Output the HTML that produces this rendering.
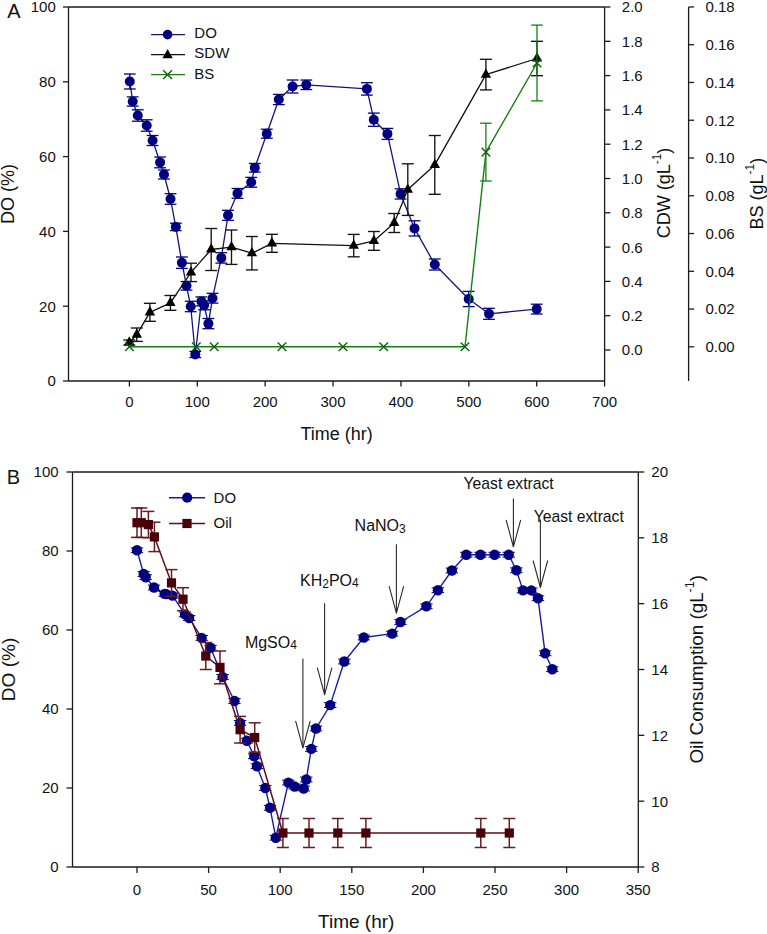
<!DOCTYPE html>
<html><head><meta charset="utf-8"><style>
html,body{margin:0;padding:0;background:#fff;}
body{width:767px;height:934px;overflow:hidden;}
svg{display:block;}
text{font-family:"Liberation Sans",sans-serif;fill:#111;}
</style></head><body>
<svg width="767" height="934" viewBox="0 0 767 934">
<rect width="767" height="934" fill="#fff"/>
<line x1="68.50" y1="7.00" x2="604.60" y2="7.00" stroke="#1a1a1a" stroke-width="1.3"/>
<line x1="68.50" y1="7.00" x2="68.50" y2="381.00" stroke="#1a1a1a" stroke-width="1.3"/>
<line x1="604.60" y1="7.00" x2="604.60" y2="381.00" stroke="#1a1a1a" stroke-width="1.3"/>
<line x1="68.50" y1="381.00" x2="604.60" y2="381.00" stroke="#1a1a1a" stroke-width="1.3"/>
<line x1="63.00" y1="381.00" x2="68.50" y2="381.00" stroke="#1a1a1a" stroke-width="1.3"/>
<text x="55.80" y="386.40" font-size="15" text-anchor="end" >0</text>
<line x1="63.00" y1="306.20" x2="68.50" y2="306.20" stroke="#1a1a1a" stroke-width="1.3"/>
<text x="55.80" y="311.60" font-size="15" text-anchor="end" >20</text>
<line x1="63.00" y1="231.40" x2="68.50" y2="231.40" stroke="#1a1a1a" stroke-width="1.3"/>
<text x="55.80" y="236.80" font-size="15" text-anchor="end" >40</text>
<line x1="63.00" y1="156.60" x2="68.50" y2="156.60" stroke="#1a1a1a" stroke-width="1.3"/>
<text x="55.80" y="162.00" font-size="15" text-anchor="end" >60</text>
<line x1="63.00" y1="81.80" x2="68.50" y2="81.80" stroke="#1a1a1a" stroke-width="1.3"/>
<text x="55.80" y="87.20" font-size="15" text-anchor="end" >80</text>
<line x1="63.00" y1="7.00" x2="68.50" y2="7.00" stroke="#1a1a1a" stroke-width="1.3"/>
<text x="55.80" y="12.40" font-size="15" text-anchor="end" >100</text>
<line x1="129.40" y1="381.00" x2="129.40" y2="386.50" stroke="#1a1a1a" stroke-width="1.3"/>
<text x="129.40" y="407.30" font-size="15" text-anchor="middle" >0</text>
<line x1="197.29" y1="381.00" x2="197.29" y2="386.50" stroke="#1a1a1a" stroke-width="1.3"/>
<text x="197.29" y="407.30" font-size="15" text-anchor="middle" >100</text>
<line x1="265.17" y1="381.00" x2="265.17" y2="386.50" stroke="#1a1a1a" stroke-width="1.3"/>
<text x="265.17" y="407.30" font-size="15" text-anchor="middle" >200</text>
<line x1="333.06" y1="381.00" x2="333.06" y2="386.50" stroke="#1a1a1a" stroke-width="1.3"/>
<text x="333.06" y="407.30" font-size="15" text-anchor="middle" >300</text>
<line x1="400.94" y1="381.00" x2="400.94" y2="386.50" stroke="#1a1a1a" stroke-width="1.3"/>
<text x="400.94" y="407.30" font-size="15" text-anchor="middle" >400</text>
<line x1="468.83" y1="381.00" x2="468.83" y2="386.50" stroke="#1a1a1a" stroke-width="1.3"/>
<text x="468.83" y="407.30" font-size="15" text-anchor="middle" >500</text>
<line x1="536.72" y1="381.00" x2="536.72" y2="386.50" stroke="#1a1a1a" stroke-width="1.3"/>
<text x="536.72" y="407.30" font-size="15" text-anchor="middle" >600</text>
<line x1="604.60" y1="381.00" x2="604.60" y2="386.50" stroke="#1a1a1a" stroke-width="1.3"/>
<text x="604.60" y="407.30" font-size="15" text-anchor="middle" >700</text>
<line x1="604.60" y1="350.00" x2="610.40" y2="350.00" stroke="#1a1a1a" stroke-width="1.3"/>
<text x="621.80" y="355.40" font-size="15" text-anchor="start" >0.0</text>
<line x1="604.60" y1="315.70" x2="610.40" y2="315.70" stroke="#1a1a1a" stroke-width="1.3"/>
<text x="621.80" y="321.10" font-size="15" text-anchor="start" >0.2</text>
<line x1="604.60" y1="281.40" x2="610.40" y2="281.40" stroke="#1a1a1a" stroke-width="1.3"/>
<text x="621.80" y="286.80" font-size="15" text-anchor="start" >0.4</text>
<line x1="604.60" y1="247.10" x2="610.40" y2="247.10" stroke="#1a1a1a" stroke-width="1.3"/>
<text x="621.80" y="252.50" font-size="15" text-anchor="start" >0.6</text>
<line x1="604.60" y1="212.80" x2="610.40" y2="212.80" stroke="#1a1a1a" stroke-width="1.3"/>
<text x="621.80" y="218.20" font-size="15" text-anchor="start" >0.8</text>
<line x1="604.60" y1="178.50" x2="610.40" y2="178.50" stroke="#1a1a1a" stroke-width="1.3"/>
<text x="621.80" y="183.90" font-size="15" text-anchor="start" >1.0</text>
<line x1="604.60" y1="144.20" x2="610.40" y2="144.20" stroke="#1a1a1a" stroke-width="1.3"/>
<text x="621.80" y="149.60" font-size="15" text-anchor="start" >1.2</text>
<line x1="604.60" y1="109.90" x2="610.40" y2="109.90" stroke="#1a1a1a" stroke-width="1.3"/>
<text x="621.80" y="115.30" font-size="15" text-anchor="start" >1.4</text>
<line x1="604.60" y1="75.60" x2="610.40" y2="75.60" stroke="#1a1a1a" stroke-width="1.3"/>
<text x="621.80" y="81.00" font-size="15" text-anchor="start" >1.6</text>
<line x1="604.60" y1="41.30" x2="610.40" y2="41.30" stroke="#1a1a1a" stroke-width="1.3"/>
<text x="621.80" y="46.70" font-size="15" text-anchor="start" >1.8</text>
<line x1="604.60" y1="7.00" x2="610.40" y2="7.00" stroke="#1a1a1a" stroke-width="1.3"/>
<text x="621.80" y="12.40" font-size="15" text-anchor="start" >2.0</text>
<line x1="688.60" y1="7.00" x2="688.60" y2="381.00" stroke="#1a1a1a" stroke-width="1.3"/>
<line x1="688.60" y1="346.80" x2="694.10" y2="346.80" stroke="#1a1a1a" stroke-width="1.3"/>
<text x="705.50" y="352.20" font-size="15" text-anchor="start" >0.00</text>
<line x1="688.60" y1="309.04" x2="694.10" y2="309.04" stroke="#1a1a1a" stroke-width="1.3"/>
<text x="705.50" y="314.44" font-size="15" text-anchor="start" >0.02</text>
<line x1="688.60" y1="271.28" x2="694.10" y2="271.28" stroke="#1a1a1a" stroke-width="1.3"/>
<text x="705.50" y="276.68" font-size="15" text-anchor="start" >0.04</text>
<line x1="688.60" y1="233.52" x2="694.10" y2="233.52" stroke="#1a1a1a" stroke-width="1.3"/>
<text x="705.50" y="238.92" font-size="15" text-anchor="start" >0.06</text>
<line x1="688.60" y1="195.76" x2="694.10" y2="195.76" stroke="#1a1a1a" stroke-width="1.3"/>
<text x="705.50" y="201.16" font-size="15" text-anchor="start" >0.08</text>
<line x1="688.60" y1="158.00" x2="694.10" y2="158.00" stroke="#1a1a1a" stroke-width="1.3"/>
<text x="705.50" y="163.40" font-size="15" text-anchor="start" >0.10</text>
<line x1="688.60" y1="120.24" x2="694.10" y2="120.24" stroke="#1a1a1a" stroke-width="1.3"/>
<text x="705.50" y="125.64" font-size="15" text-anchor="start" >0.12</text>
<line x1="688.60" y1="82.48" x2="694.10" y2="82.48" stroke="#1a1a1a" stroke-width="1.3"/>
<text x="705.50" y="87.88" font-size="15" text-anchor="start" >0.14</text>
<line x1="688.60" y1="44.72" x2="694.10" y2="44.72" stroke="#1a1a1a" stroke-width="1.3"/>
<text x="705.50" y="50.12" font-size="15" text-anchor="start" >0.16</text>
<line x1="688.60" y1="6.96" x2="694.10" y2="6.96" stroke="#1a1a1a" stroke-width="1.3"/>
<text x="705.50" y="12.36" font-size="15" text-anchor="start" >0.18</text>
<text x="7.30" y="18.30" font-size="20" text-anchor="start" >A</text>
<text transform="translate(13.9,194) rotate(-90)" font-size="18" text-anchor="middle">DO (%)</text>
<text x="336.70" y="439.80" font-size="18" text-anchor="middle" >Time (hr)</text>
<text transform="translate(670.3,193) rotate(-90)" font-size="18" text-anchor="middle">CDW (gL<tspan font-size="12" dy="-9">-1</tspan><tspan dy="9">)</tspan></text>
<text transform="translate(762.5,193.7) rotate(-90)" font-size="18" text-anchor="middle">BS (gL<tspan font-size="12" dy="-9">-1</tspan><tspan dy="9">)</tspan></text>
<polyline points="129.80,81.50 132.70,101.50 137.80,115.50 146.70,125.50 152.60,140.50 160.10,162.40 164.00,174.50 170.50,199.00 175.80,226.90 181.90,262.70 186.50,285.80 190.70,306.50 195.30,354.50 201.40,301.40 204.10,305.30 208.40,323.60 212.50,298.20 221.30,257.90 228.00,215.30 237.50,193.40 251.20,182.30 254.80,167.80 266.80,133.70 278.80,99.50 292.60,86.50 306.30,84.80 366.90,88.90 373.80,119.70 387.40,133.90 400.60,193.90 414.50,228.40 434.80,264.50 468.70,299.00 489.00,313.80 536.70,309.10" fill="none" stroke="#141478" stroke-width="1.3" stroke-linejoin="round"/>
<line x1="129.80" y1="74.00" x2="129.80" y2="89.00" stroke="#000080" stroke-width="1.3"/>
<line x1="123.90" y1="74.00" x2="135.70" y2="74.00" stroke="#000080" stroke-width="1.3"/>
<line x1="123.90" y1="89.00" x2="135.70" y2="89.00" stroke="#000080" stroke-width="1.3"/>
<line x1="132.70" y1="96.90" x2="132.70" y2="106.10" stroke="#000080" stroke-width="1.3"/>
<line x1="126.80" y1="96.90" x2="138.60" y2="96.90" stroke="#000080" stroke-width="1.3"/>
<line x1="126.80" y1="106.10" x2="138.60" y2="106.10" stroke="#000080" stroke-width="1.3"/>
<line x1="137.80" y1="109.80" x2="137.80" y2="121.20" stroke="#000080" stroke-width="1.3"/>
<line x1="131.90" y1="109.80" x2="143.70" y2="109.80" stroke="#000080" stroke-width="1.3"/>
<line x1="131.90" y1="121.20" x2="143.70" y2="121.20" stroke="#000080" stroke-width="1.3"/>
<line x1="146.70" y1="119.80" x2="146.70" y2="131.20" stroke="#000080" stroke-width="1.3"/>
<line x1="140.80" y1="119.80" x2="152.60" y2="119.80" stroke="#000080" stroke-width="1.3"/>
<line x1="140.80" y1="131.20" x2="152.60" y2="131.20" stroke="#000080" stroke-width="1.3"/>
<line x1="152.60" y1="135.50" x2="152.60" y2="145.50" stroke="#000080" stroke-width="1.3"/>
<line x1="146.70" y1="135.50" x2="158.50" y2="135.50" stroke="#000080" stroke-width="1.3"/>
<line x1="146.70" y1="145.50" x2="158.50" y2="145.50" stroke="#000080" stroke-width="1.3"/>
<line x1="160.10" y1="157.00" x2="160.10" y2="167.80" stroke="#000080" stroke-width="1.3"/>
<line x1="154.20" y1="157.00" x2="166.00" y2="157.00" stroke="#000080" stroke-width="1.3"/>
<line x1="154.20" y1="167.80" x2="166.00" y2="167.80" stroke="#000080" stroke-width="1.3"/>
<line x1="164.00" y1="170.00" x2="164.00" y2="179.00" stroke="#000080" stroke-width="1.3"/>
<line x1="158.10" y1="170.00" x2="169.90" y2="170.00" stroke="#000080" stroke-width="1.3"/>
<line x1="158.10" y1="179.00" x2="169.90" y2="179.00" stroke="#000080" stroke-width="1.3"/>
<line x1="170.50" y1="193.70" x2="170.50" y2="204.30" stroke="#000080" stroke-width="1.3"/>
<line x1="164.60" y1="193.70" x2="176.40" y2="193.70" stroke="#000080" stroke-width="1.3"/>
<line x1="164.60" y1="204.30" x2="176.40" y2="204.30" stroke="#000080" stroke-width="1.3"/>
<line x1="175.80" y1="223.20" x2="175.80" y2="230.60" stroke="#000080" stroke-width="1.3"/>
<line x1="169.90" y1="223.20" x2="181.70" y2="223.20" stroke="#000080" stroke-width="1.3"/>
<line x1="169.90" y1="230.60" x2="181.70" y2="230.60" stroke="#000080" stroke-width="1.3"/>
<line x1="181.90" y1="257.00" x2="181.90" y2="268.40" stroke="#000080" stroke-width="1.3"/>
<line x1="176.00" y1="257.00" x2="187.80" y2="257.00" stroke="#000080" stroke-width="1.3"/>
<line x1="176.00" y1="268.40" x2="187.80" y2="268.40" stroke="#000080" stroke-width="1.3"/>
<line x1="186.50" y1="281.50" x2="186.50" y2="290.10" stroke="#000080" stroke-width="1.3"/>
<line x1="180.60" y1="281.50" x2="192.40" y2="281.50" stroke="#000080" stroke-width="1.3"/>
<line x1="180.60" y1="290.10" x2="192.40" y2="290.10" stroke="#000080" stroke-width="1.3"/>
<line x1="190.70" y1="301.30" x2="190.70" y2="311.70" stroke="#000080" stroke-width="1.3"/>
<line x1="184.80" y1="301.30" x2="196.60" y2="301.30" stroke="#000080" stroke-width="1.3"/>
<line x1="184.80" y1="311.70" x2="196.60" y2="311.70" stroke="#000080" stroke-width="1.3"/>
<line x1="195.30" y1="351.50" x2="195.30" y2="357.50" stroke="#000080" stroke-width="1.3"/>
<line x1="189.40" y1="351.50" x2="201.20" y2="351.50" stroke="#000080" stroke-width="1.3"/>
<line x1="189.40" y1="357.50" x2="201.20" y2="357.50" stroke="#000080" stroke-width="1.3"/>
<line x1="201.40" y1="296.90" x2="201.40" y2="305.90" stroke="#000080" stroke-width="1.3"/>
<line x1="195.50" y1="296.90" x2="207.30" y2="296.90" stroke="#000080" stroke-width="1.3"/>
<line x1="195.50" y1="305.90" x2="207.30" y2="305.90" stroke="#000080" stroke-width="1.3"/>
<line x1="204.10" y1="300.80" x2="204.10" y2="309.80" stroke="#000080" stroke-width="1.3"/>
<line x1="198.20" y1="300.80" x2="210.00" y2="300.80" stroke="#000080" stroke-width="1.3"/>
<line x1="198.20" y1="309.80" x2="210.00" y2="309.80" stroke="#000080" stroke-width="1.3"/>
<line x1="208.40" y1="318.50" x2="208.40" y2="328.70" stroke="#000080" stroke-width="1.3"/>
<line x1="202.50" y1="318.50" x2="214.30" y2="318.50" stroke="#000080" stroke-width="1.3"/>
<line x1="202.50" y1="328.70" x2="214.30" y2="328.70" stroke="#000080" stroke-width="1.3"/>
<line x1="212.50" y1="293.30" x2="212.50" y2="303.10" stroke="#000080" stroke-width="1.3"/>
<line x1="206.60" y1="293.30" x2="218.40" y2="293.30" stroke="#000080" stroke-width="1.3"/>
<line x1="206.60" y1="303.10" x2="218.40" y2="303.10" stroke="#000080" stroke-width="1.3"/>
<line x1="221.30" y1="252.70" x2="221.30" y2="263.10" stroke="#000080" stroke-width="1.3"/>
<line x1="215.40" y1="252.70" x2="227.20" y2="252.70" stroke="#000080" stroke-width="1.3"/>
<line x1="215.40" y1="263.10" x2="227.20" y2="263.10" stroke="#000080" stroke-width="1.3"/>
<line x1="228.00" y1="210.30" x2="228.00" y2="220.30" stroke="#000080" stroke-width="1.3"/>
<line x1="222.10" y1="210.30" x2="233.90" y2="210.30" stroke="#000080" stroke-width="1.3"/>
<line x1="222.10" y1="220.30" x2="233.90" y2="220.30" stroke="#000080" stroke-width="1.3"/>
<line x1="237.50" y1="188.50" x2="237.50" y2="198.30" stroke="#000080" stroke-width="1.3"/>
<line x1="231.60" y1="188.50" x2="243.40" y2="188.50" stroke="#000080" stroke-width="1.3"/>
<line x1="231.60" y1="198.30" x2="243.40" y2="198.30" stroke="#000080" stroke-width="1.3"/>
<line x1="251.20" y1="177.40" x2="251.20" y2="187.20" stroke="#000080" stroke-width="1.3"/>
<line x1="245.30" y1="177.40" x2="257.10" y2="177.40" stroke="#000080" stroke-width="1.3"/>
<line x1="245.30" y1="187.20" x2="257.10" y2="187.20" stroke="#000080" stroke-width="1.3"/>
<line x1="254.80" y1="163.50" x2="254.80" y2="172.10" stroke="#000080" stroke-width="1.3"/>
<line x1="248.90" y1="163.50" x2="260.70" y2="163.50" stroke="#000080" stroke-width="1.3"/>
<line x1="248.90" y1="172.10" x2="260.70" y2="172.10" stroke="#000080" stroke-width="1.3"/>
<line x1="266.80" y1="129.20" x2="266.80" y2="138.20" stroke="#000080" stroke-width="1.3"/>
<line x1="260.90" y1="129.20" x2="272.70" y2="129.20" stroke="#000080" stroke-width="1.3"/>
<line x1="260.90" y1="138.20" x2="272.70" y2="138.20" stroke="#000080" stroke-width="1.3"/>
<line x1="278.80" y1="94.40" x2="278.80" y2="104.60" stroke="#000080" stroke-width="1.3"/>
<line x1="272.90" y1="94.40" x2="284.70" y2="94.40" stroke="#000080" stroke-width="1.3"/>
<line x1="272.90" y1="104.60" x2="284.70" y2="104.60" stroke="#000080" stroke-width="1.3"/>
<line x1="292.60" y1="80.00" x2="292.60" y2="93.00" stroke="#000080" stroke-width="1.3"/>
<line x1="286.70" y1="80.00" x2="298.50" y2="80.00" stroke="#000080" stroke-width="1.3"/>
<line x1="286.70" y1="93.00" x2="298.50" y2="93.00" stroke="#000080" stroke-width="1.3"/>
<line x1="306.30" y1="80.05" x2="306.30" y2="89.55" stroke="#000080" stroke-width="1.3"/>
<line x1="300.40" y1="80.05" x2="312.20" y2="80.05" stroke="#000080" stroke-width="1.3"/>
<line x1="300.40" y1="89.55" x2="312.20" y2="89.55" stroke="#000080" stroke-width="1.3"/>
<line x1="366.90" y1="82.70" x2="366.90" y2="95.10" stroke="#000080" stroke-width="1.3"/>
<line x1="361.00" y1="82.70" x2="372.80" y2="82.70" stroke="#000080" stroke-width="1.3"/>
<line x1="361.00" y1="95.10" x2="372.80" y2="95.10" stroke="#000080" stroke-width="1.3"/>
<line x1="373.80" y1="113.10" x2="373.80" y2="126.30" stroke="#000080" stroke-width="1.3"/>
<line x1="367.90" y1="113.10" x2="379.70" y2="113.10" stroke="#000080" stroke-width="1.3"/>
<line x1="367.90" y1="126.30" x2="379.70" y2="126.30" stroke="#000080" stroke-width="1.3"/>
<line x1="387.40" y1="128.40" x2="387.40" y2="139.40" stroke="#000080" stroke-width="1.3"/>
<line x1="381.50" y1="128.40" x2="393.30" y2="128.40" stroke="#000080" stroke-width="1.3"/>
<line x1="381.50" y1="139.40" x2="393.30" y2="139.40" stroke="#000080" stroke-width="1.3"/>
<line x1="400.60" y1="188.80" x2="400.60" y2="199.00" stroke="#000080" stroke-width="1.3"/>
<line x1="394.70" y1="188.80" x2="406.50" y2="188.80" stroke="#000080" stroke-width="1.3"/>
<line x1="394.70" y1="199.00" x2="406.50" y2="199.00" stroke="#000080" stroke-width="1.3"/>
<line x1="414.50" y1="220.80" x2="414.50" y2="236.00" stroke="#000080" stroke-width="1.3"/>
<line x1="408.60" y1="220.80" x2="420.40" y2="220.80" stroke="#000080" stroke-width="1.3"/>
<line x1="408.60" y1="236.00" x2="420.40" y2="236.00" stroke="#000080" stroke-width="1.3"/>
<line x1="434.80" y1="259.00" x2="434.80" y2="270.00" stroke="#000080" stroke-width="1.3"/>
<line x1="428.90" y1="259.00" x2="440.70" y2="259.00" stroke="#000080" stroke-width="1.3"/>
<line x1="428.90" y1="270.00" x2="440.70" y2="270.00" stroke="#000080" stroke-width="1.3"/>
<line x1="468.70" y1="291.40" x2="468.70" y2="306.60" stroke="#000080" stroke-width="1.3"/>
<line x1="462.80" y1="291.40" x2="474.60" y2="291.40" stroke="#000080" stroke-width="1.3"/>
<line x1="462.80" y1="306.60" x2="474.60" y2="306.60" stroke="#000080" stroke-width="1.3"/>
<line x1="489.00" y1="308.30" x2="489.00" y2="319.30" stroke="#000080" stroke-width="1.3"/>
<line x1="483.10" y1="308.30" x2="494.90" y2="308.30" stroke="#000080" stroke-width="1.3"/>
<line x1="483.10" y1="319.30" x2="494.90" y2="319.30" stroke="#000080" stroke-width="1.3"/>
<line x1="536.70" y1="304.20" x2="536.70" y2="314.00" stroke="#000080" stroke-width="1.3"/>
<line x1="530.80" y1="304.20" x2="542.60" y2="304.20" stroke="#000080" stroke-width="1.3"/>
<line x1="530.80" y1="314.00" x2="542.60" y2="314.00" stroke="#000080" stroke-width="1.3"/>
<circle cx="129.80" cy="81.50" r="5.0" fill="#000080"/>
<circle cx="132.70" cy="101.50" r="5.0" fill="#000080"/>
<circle cx="137.80" cy="115.50" r="5.0" fill="#000080"/>
<circle cx="146.70" cy="125.50" r="5.0" fill="#000080"/>
<circle cx="152.60" cy="140.50" r="5.0" fill="#000080"/>
<circle cx="160.10" cy="162.40" r="5.0" fill="#000080"/>
<circle cx="164.00" cy="174.50" r="5.0" fill="#000080"/>
<circle cx="170.50" cy="199.00" r="5.0" fill="#000080"/>
<circle cx="175.80" cy="226.90" r="5.0" fill="#000080"/>
<circle cx="181.90" cy="262.70" r="5.0" fill="#000080"/>
<circle cx="186.50" cy="285.80" r="5.0" fill="#000080"/>
<circle cx="190.70" cy="306.50" r="5.0" fill="#000080"/>
<circle cx="195.30" cy="354.50" r="5.0" fill="#000080"/>
<circle cx="201.40" cy="301.40" r="5.0" fill="#000080"/>
<circle cx="204.10" cy="305.30" r="5.0" fill="#000080"/>
<circle cx="208.40" cy="323.60" r="5.0" fill="#000080"/>
<circle cx="212.50" cy="298.20" r="5.0" fill="#000080"/>
<circle cx="221.30" cy="257.90" r="5.0" fill="#000080"/>
<circle cx="228.00" cy="215.30" r="5.0" fill="#000080"/>
<circle cx="237.50" cy="193.40" r="5.0" fill="#000080"/>
<circle cx="251.20" cy="182.30" r="5.0" fill="#000080"/>
<circle cx="254.80" cy="167.80" r="5.0" fill="#000080"/>
<circle cx="266.80" cy="133.70" r="5.0" fill="#000080"/>
<circle cx="278.80" cy="99.50" r="5.0" fill="#000080"/>
<circle cx="292.60" cy="86.50" r="5.0" fill="#000080"/>
<circle cx="306.30" cy="84.80" r="5.0" fill="#000080"/>
<circle cx="366.90" cy="88.90" r="5.0" fill="#000080"/>
<circle cx="373.80" cy="119.70" r="5.0" fill="#000080"/>
<circle cx="387.40" cy="133.90" r="5.0" fill="#000080"/>
<circle cx="400.60" cy="193.90" r="5.0" fill="#000080"/>
<circle cx="414.50" cy="228.40" r="5.0" fill="#000080"/>
<circle cx="434.80" cy="264.50" r="5.0" fill="#000080"/>
<circle cx="468.70" cy="299.00" r="5.0" fill="#000080"/>
<circle cx="489.00" cy="313.80" r="5.0" fill="#000080"/>
<circle cx="536.70" cy="309.10" r="5.0" fill="#000080"/>
<polyline points="129.30,342.50 136.80,334.70 149.90,312.30 170.40,302.90 191.00,272.40 211.20,249.50 231.50,247.20 251.90,253.20 271.90,243.30 353.70,245.60 373.90,240.90 394.20,223.00 407.80,189.60 434.80,164.90 485.90,74.60 537.00,58.50" fill="none" stroke="#111" stroke-width="1.3" stroke-linejoin="round"/>
<line x1="129.30" y1="340.00" x2="129.30" y2="345.00" stroke="#141414" stroke-width="1.35"/>
<line x1="123.30" y1="340.00" x2="135.30" y2="340.00" stroke="#141414" stroke-width="1.35"/>
<line x1="123.30" y1="345.00" x2="135.30" y2="345.00" stroke="#141414" stroke-width="1.35"/>
<line x1="136.80" y1="328.00" x2="136.80" y2="341.40" stroke="#141414" stroke-width="1.35"/>
<line x1="130.80" y1="328.00" x2="142.80" y2="328.00" stroke="#141414" stroke-width="1.35"/>
<line x1="130.80" y1="341.40" x2="142.80" y2="341.40" stroke="#141414" stroke-width="1.35"/>
<line x1="149.90" y1="303.30" x2="149.90" y2="321.30" stroke="#141414" stroke-width="1.35"/>
<line x1="143.90" y1="303.30" x2="155.90" y2="303.30" stroke="#141414" stroke-width="1.35"/>
<line x1="143.90" y1="321.30" x2="155.90" y2="321.30" stroke="#141414" stroke-width="1.35"/>
<line x1="170.40" y1="295.50" x2="170.40" y2="310.30" stroke="#141414" stroke-width="1.35"/>
<line x1="164.40" y1="295.50" x2="176.40" y2="295.50" stroke="#141414" stroke-width="1.35"/>
<line x1="164.40" y1="310.30" x2="176.40" y2="310.30" stroke="#141414" stroke-width="1.35"/>
<line x1="191.00" y1="263.20" x2="191.00" y2="281.60" stroke="#141414" stroke-width="1.35"/>
<line x1="185.00" y1="263.20" x2="197.00" y2="263.20" stroke="#141414" stroke-width="1.35"/>
<line x1="185.00" y1="281.60" x2="197.00" y2="281.60" stroke="#141414" stroke-width="1.35"/>
<line x1="211.20" y1="228.50" x2="211.20" y2="270.50" stroke="#141414" stroke-width="1.35"/>
<line x1="205.20" y1="228.50" x2="217.20" y2="228.50" stroke="#141414" stroke-width="1.35"/>
<line x1="205.20" y1="270.50" x2="217.20" y2="270.50" stroke="#141414" stroke-width="1.35"/>
<line x1="231.50" y1="230.00" x2="231.50" y2="264.40" stroke="#141414" stroke-width="1.35"/>
<line x1="225.50" y1="230.00" x2="237.50" y2="230.00" stroke="#141414" stroke-width="1.35"/>
<line x1="225.50" y1="264.40" x2="237.50" y2="264.40" stroke="#141414" stroke-width="1.35"/>
<line x1="251.90" y1="236.50" x2="251.90" y2="269.90" stroke="#141414" stroke-width="1.35"/>
<line x1="245.90" y1="236.50" x2="257.90" y2="236.50" stroke="#141414" stroke-width="1.35"/>
<line x1="245.90" y1="269.90" x2="257.90" y2="269.90" stroke="#141414" stroke-width="1.35"/>
<line x1="271.90" y1="234.30" x2="271.90" y2="252.30" stroke="#141414" stroke-width="1.35"/>
<line x1="265.90" y1="234.30" x2="277.90" y2="234.30" stroke="#141414" stroke-width="1.35"/>
<line x1="265.90" y1="252.30" x2="277.90" y2="252.30" stroke="#141414" stroke-width="1.35"/>
<line x1="353.70" y1="234.40" x2="353.70" y2="256.80" stroke="#141414" stroke-width="1.35"/>
<line x1="347.70" y1="234.40" x2="359.70" y2="234.40" stroke="#141414" stroke-width="1.35"/>
<line x1="347.70" y1="256.80" x2="359.70" y2="256.80" stroke="#141414" stroke-width="1.35"/>
<line x1="373.90" y1="231.50" x2="373.90" y2="250.30" stroke="#141414" stroke-width="1.35"/>
<line x1="367.90" y1="231.50" x2="379.90" y2="231.50" stroke="#141414" stroke-width="1.35"/>
<line x1="367.90" y1="250.30" x2="379.90" y2="250.30" stroke="#141414" stroke-width="1.35"/>
<line x1="394.20" y1="213.50" x2="394.20" y2="232.50" stroke="#141414" stroke-width="1.35"/>
<line x1="388.20" y1="213.50" x2="400.20" y2="213.50" stroke="#141414" stroke-width="1.35"/>
<line x1="388.20" y1="232.50" x2="400.20" y2="232.50" stroke="#141414" stroke-width="1.35"/>
<line x1="407.80" y1="163.80" x2="407.80" y2="215.40" stroke="#141414" stroke-width="1.35"/>
<line x1="401.80" y1="163.80" x2="413.80" y2="163.80" stroke="#141414" stroke-width="1.35"/>
<line x1="401.80" y1="215.40" x2="413.80" y2="215.40" stroke="#141414" stroke-width="1.35"/>
<line x1="434.80" y1="135.50" x2="434.80" y2="194.30" stroke="#141414" stroke-width="1.35"/>
<line x1="428.80" y1="135.50" x2="440.80" y2="135.50" stroke="#141414" stroke-width="1.35"/>
<line x1="428.80" y1="194.30" x2="440.80" y2="194.30" stroke="#141414" stroke-width="1.35"/>
<line x1="485.90" y1="59.30" x2="485.90" y2="89.90" stroke="#141414" stroke-width="1.35"/>
<line x1="479.90" y1="59.30" x2="491.90" y2="59.30" stroke="#141414" stroke-width="1.35"/>
<line x1="479.90" y1="89.90" x2="491.90" y2="89.90" stroke="#141414" stroke-width="1.35"/>
<line x1="537.00" y1="41.30" x2="537.00" y2="75.70" stroke="#141414" stroke-width="1.35"/>
<line x1="531.00" y1="41.30" x2="543.00" y2="41.30" stroke="#141414" stroke-width="1.35"/>
<line x1="531.00" y1="75.70" x2="543.00" y2="75.70" stroke="#141414" stroke-width="1.35"/>
<polygon points="129.30,336.30 134.50,345.60 124.10,345.60" fill="#000"/>
<polygon points="136.80,328.50 142.00,337.80 131.60,337.80" fill="#000"/>
<polygon points="149.90,306.10 155.10,315.40 144.70,315.40" fill="#000"/>
<polygon points="170.40,296.70 175.60,306.00 165.20,306.00" fill="#000"/>
<polygon points="191.00,266.20 196.20,275.50 185.80,275.50" fill="#000"/>
<polygon points="211.20,243.30 216.40,252.60 206.00,252.60" fill="#000"/>
<polygon points="231.50,241.00 236.70,250.30 226.30,250.30" fill="#000"/>
<polygon points="251.90,247.00 257.10,256.30 246.70,256.30" fill="#000"/>
<polygon points="271.90,237.10 277.10,246.40 266.70,246.40" fill="#000"/>
<polygon points="353.70,239.40 358.90,248.70 348.50,248.70" fill="#000"/>
<polygon points="373.90,234.70 379.10,244.00 368.70,244.00" fill="#000"/>
<polygon points="394.20,216.80 399.40,226.10 389.00,226.10" fill="#000"/>
<polygon points="407.80,183.40 413.00,192.70 402.60,192.70" fill="#000"/>
<polygon points="434.80,158.70 440.00,168.00 429.60,168.00" fill="#000"/>
<polygon points="485.90,68.40 491.10,77.70 480.70,77.70" fill="#000"/>
<polygon points="537.00,52.30 542.20,61.60 531.80,61.60" fill="#000"/>
<polyline points="129.40,346.80 196.30,346.80 214.20,346.80 282.00,346.80 343.00,346.80 383.70,346.80 465.00,346.80 485.90,152.10 537.00,63.00" fill="none" stroke="#138013" stroke-width="1.4" stroke-linejoin="round"/>
<line x1="485.90" y1="123.20" x2="485.90" y2="181.00" stroke="#138013" stroke-width="1.3"/>
<line x1="480.10" y1="123.20" x2="491.70" y2="123.20" stroke="#138013" stroke-width="1.3"/>
<line x1="480.10" y1="181.00" x2="491.70" y2="181.00" stroke="#138013" stroke-width="1.3"/>
<line x1="537.00" y1="25.10" x2="537.00" y2="100.90" stroke="#138013" stroke-width="1.3"/>
<line x1="531.20" y1="25.10" x2="542.80" y2="25.10" stroke="#138013" stroke-width="1.3"/>
<line x1="531.20" y1="100.90" x2="542.80" y2="100.90" stroke="#138013" stroke-width="1.3"/>
<line x1="125.10" y1="342.50" x2="133.70" y2="351.10" stroke="#0e600e" stroke-width="1.4"/>
<line x1="125.10" y1="351.10" x2="133.70" y2="342.50" stroke="#0e600e" stroke-width="1.4"/>
<line x1="192.00" y1="342.50" x2="200.60" y2="351.10" stroke="#0e600e" stroke-width="1.4"/>
<line x1="192.00" y1="351.10" x2="200.60" y2="342.50" stroke="#0e600e" stroke-width="1.4"/>
<line x1="209.90" y1="342.50" x2="218.50" y2="351.10" stroke="#0e600e" stroke-width="1.4"/>
<line x1="209.90" y1="351.10" x2="218.50" y2="342.50" stroke="#0e600e" stroke-width="1.4"/>
<line x1="277.70" y1="342.50" x2="286.30" y2="351.10" stroke="#0e600e" stroke-width="1.4"/>
<line x1="277.70" y1="351.10" x2="286.30" y2="342.50" stroke="#0e600e" stroke-width="1.4"/>
<line x1="338.70" y1="342.50" x2="347.30" y2="351.10" stroke="#0e600e" stroke-width="1.4"/>
<line x1="338.70" y1="351.10" x2="347.30" y2="342.50" stroke="#0e600e" stroke-width="1.4"/>
<line x1="379.40" y1="342.50" x2="388.00" y2="351.10" stroke="#0e600e" stroke-width="1.4"/>
<line x1="379.40" y1="351.10" x2="388.00" y2="342.50" stroke="#0e600e" stroke-width="1.4"/>
<line x1="460.70" y1="342.50" x2="469.30" y2="351.10" stroke="#0e600e" stroke-width="1.4"/>
<line x1="460.70" y1="351.10" x2="469.30" y2="342.50" stroke="#0e600e" stroke-width="1.4"/>
<line x1="481.60" y1="147.80" x2="490.20" y2="156.40" stroke="#0e600e" stroke-width="1.4"/>
<line x1="481.60" y1="156.40" x2="490.20" y2="147.80" stroke="#0e600e" stroke-width="1.4"/>
<line x1="532.70" y1="58.70" x2="541.30" y2="67.30" stroke="#0e600e" stroke-width="1.4"/>
<line x1="532.70" y1="67.30" x2="541.30" y2="58.70" stroke="#0e600e" stroke-width="1.4"/>
<line x1="151.10" y1="34.60" x2="185.00" y2="34.60" stroke="#141478" stroke-width="1.4"/>
<circle cx="167.60" cy="34.60" r="4.8" fill="#000080"/>
<text x="194.30" y="37.90" font-size="15" text-anchor="start" >DO</text>
<line x1="151.10" y1="54.60" x2="185.00" y2="54.60" stroke="#111" stroke-width="1.3"/>
<polygon points="167.60,48.90 172.80,58.20 162.40,58.20" fill="#000"/>
<text x="194.30" y="58.30" font-size="15" text-anchor="start" >SDW</text>
<line x1="151.10" y1="74.60" x2="185.00" y2="74.60" stroke="#138013" stroke-width="1.3"/>
<line x1="163.20" y1="70.20" x2="172.00" y2="79.00" stroke="#0e600e" stroke-width="1.4"/>
<line x1="163.20" y1="79.00" x2="172.00" y2="70.20" stroke="#0e600e" stroke-width="1.4"/>
<text x="194.30" y="79.00" font-size="15" text-anchor="start" >BS</text>
<line x1="72.50" y1="472.00" x2="638.30" y2="472.00" stroke="#1a1a1a" stroke-width="1.3"/>
<line x1="72.50" y1="472.00" x2="72.50" y2="867.00" stroke="#1a1a1a" stroke-width="1.3"/>
<line x1="638.30" y1="472.00" x2="638.30" y2="867.00" stroke="#1a1a1a" stroke-width="1.3"/>
<line x1="72.50" y1="867.00" x2="638.30" y2="867.00" stroke="#1a1a1a" stroke-width="1.3"/>
<line x1="66.50" y1="867.00" x2="72.50" y2="867.00" stroke="#1a1a1a" stroke-width="1.3"/>
<text x="58.60" y="872.40" font-size="15" text-anchor="end" >0</text>
<line x1="66.50" y1="788.00" x2="72.50" y2="788.00" stroke="#1a1a1a" stroke-width="1.3"/>
<text x="58.60" y="793.40" font-size="15" text-anchor="end" >20</text>
<line x1="66.50" y1="709.00" x2="72.50" y2="709.00" stroke="#1a1a1a" stroke-width="1.3"/>
<text x="58.60" y="714.40" font-size="15" text-anchor="end" >40</text>
<line x1="66.50" y1="630.00" x2="72.50" y2="630.00" stroke="#1a1a1a" stroke-width="1.3"/>
<text x="58.60" y="635.40" font-size="15" text-anchor="end" >60</text>
<line x1="66.50" y1="551.00" x2="72.50" y2="551.00" stroke="#1a1a1a" stroke-width="1.3"/>
<text x="58.60" y="556.40" font-size="15" text-anchor="end" >80</text>
<line x1="66.50" y1="472.00" x2="72.50" y2="472.00" stroke="#1a1a1a" stroke-width="1.3"/>
<text x="58.60" y="477.40" font-size="15" text-anchor="end" >100</text>
<line x1="137.00" y1="867.00" x2="137.00" y2="873.00" stroke="#1a1a1a" stroke-width="1.3"/>
<text x="137.00" y="894.70" font-size="15" text-anchor="middle" >0</text>
<line x1="208.60" y1="867.00" x2="208.60" y2="873.00" stroke="#1a1a1a" stroke-width="1.3"/>
<text x="208.60" y="894.70" font-size="15" text-anchor="middle" >50</text>
<line x1="280.20" y1="867.00" x2="280.20" y2="873.00" stroke="#1a1a1a" stroke-width="1.3"/>
<text x="280.20" y="894.70" font-size="15" text-anchor="middle" >100</text>
<line x1="351.80" y1="867.00" x2="351.80" y2="873.00" stroke="#1a1a1a" stroke-width="1.3"/>
<text x="351.80" y="894.70" font-size="15" text-anchor="middle" >150</text>
<line x1="423.40" y1="867.00" x2="423.40" y2="873.00" stroke="#1a1a1a" stroke-width="1.3"/>
<text x="423.40" y="894.70" font-size="15" text-anchor="middle" >200</text>
<line x1="495.00" y1="867.00" x2="495.00" y2="873.00" stroke="#1a1a1a" stroke-width="1.3"/>
<text x="495.00" y="894.70" font-size="15" text-anchor="middle" >250</text>
<line x1="566.60" y1="867.00" x2="566.60" y2="873.00" stroke="#1a1a1a" stroke-width="1.3"/>
<text x="566.60" y="894.70" font-size="15" text-anchor="middle" >300</text>
<line x1="638.20" y1="867.00" x2="638.20" y2="873.00" stroke="#1a1a1a" stroke-width="1.3"/>
<text x="638.20" y="894.70" font-size="15" text-anchor="middle" >350</text>
<line x1="638.30" y1="867.00" x2="644.30" y2="867.00" stroke="#1a1a1a" stroke-width="1.3"/>
<text x="651.30" y="872.40" font-size="15" text-anchor="start" >8</text>
<line x1="638.30" y1="801.17" x2="644.30" y2="801.17" stroke="#1a1a1a" stroke-width="1.3"/>
<text x="651.30" y="806.57" font-size="15" text-anchor="start" >10</text>
<line x1="638.30" y1="735.33" x2="644.30" y2="735.33" stroke="#1a1a1a" stroke-width="1.3"/>
<text x="651.30" y="740.73" font-size="15" text-anchor="start" >12</text>
<line x1="638.30" y1="669.50" x2="644.30" y2="669.50" stroke="#1a1a1a" stroke-width="1.3"/>
<text x="651.30" y="674.90" font-size="15" text-anchor="start" >14</text>
<line x1="638.30" y1="603.67" x2="644.30" y2="603.67" stroke="#1a1a1a" stroke-width="1.3"/>
<text x="651.30" y="609.07" font-size="15" text-anchor="start" >16</text>
<line x1="638.30" y1="537.83" x2="644.30" y2="537.83" stroke="#1a1a1a" stroke-width="1.3"/>
<text x="651.30" y="543.23" font-size="15" text-anchor="start" >18</text>
<line x1="638.30" y1="472.00" x2="644.30" y2="472.00" stroke="#1a1a1a" stroke-width="1.3"/>
<text x="651.30" y="477.40" font-size="15" text-anchor="start" >20</text>
<text x="6.70" y="483.70" font-size="20" text-anchor="start" >B</text>
<text transform="translate(15.4,669.4) rotate(-90)" font-size="19.1" text-anchor="middle">DO (%)</text>
<text x="356.20" y="928.40" font-size="19" text-anchor="middle" >Time (hr)</text>
<text transform="translate(703.2,669.3) rotate(-90)" font-size="18.8" text-anchor="middle">Oil Consumption (gL<tspan font-size="12.5" dy="-9.5">-1</tspan><tspan dy="9.5">)</tspan></text>
<polyline points="137.00,550.30 143.70,574.00 145.70,577.20 154.00,587.50 164.60,593.90 166.30,594.10 172.50,595.60 185.00,614.40 189.20,618.00 201.70,637.90 210.60,647.80 222.60,677.00 234.50,701.00 240.10,722.90 246.90,740.70 254.20,756.30 256.90,766.20 265.30,788.00 270.00,807.80 275.80,837.70 288.40,782.60 294.60,786.50 303.70,788.50 306.30,779.50 311.30,748.90 316.00,728.50 330.20,705.10 344.30,661.50 363.80,637.50 392.20,633.60 400.50,622.00 426.40,606.30 437.90,590.20 451.90,570.50 466.30,554.70 480.50,554.70 494.60,554.70 508.70,554.70 516.40,570.30 523.00,590.40 531.30,590.40 538.00,598.20 545.10,653.30 552.30,669.20" fill="none" stroke="#1a1aa6" stroke-width="1.4" stroke-linejoin="round"/>
<line x1="137.00" y1="547.90" x2="137.00" y2="552.70" stroke="#000080" stroke-width="1.0"/>
<line x1="130.80" y1="547.90" x2="143.20" y2="547.90" stroke="#000080" stroke-width="1.0"/>
<line x1="130.80" y1="552.70" x2="143.20" y2="552.70" stroke="#000080" stroke-width="1.0"/>
<line x1="143.70" y1="571.60" x2="143.70" y2="576.40" stroke="#000080" stroke-width="1.0"/>
<line x1="137.50" y1="571.60" x2="149.90" y2="571.60" stroke="#000080" stroke-width="1.0"/>
<line x1="137.50" y1="576.40" x2="149.90" y2="576.40" stroke="#000080" stroke-width="1.0"/>
<line x1="145.70" y1="574.80" x2="145.70" y2="579.60" stroke="#000080" stroke-width="1.0"/>
<line x1="139.50" y1="574.80" x2="151.90" y2="574.80" stroke="#000080" stroke-width="1.0"/>
<line x1="139.50" y1="579.60" x2="151.90" y2="579.60" stroke="#000080" stroke-width="1.0"/>
<line x1="154.00" y1="585.10" x2="154.00" y2="589.90" stroke="#000080" stroke-width="1.0"/>
<line x1="147.80" y1="585.10" x2="160.20" y2="585.10" stroke="#000080" stroke-width="1.0"/>
<line x1="147.80" y1="589.90" x2="160.20" y2="589.90" stroke="#000080" stroke-width="1.0"/>
<line x1="164.60" y1="591.50" x2="164.60" y2="596.30" stroke="#000080" stroke-width="1.0"/>
<line x1="158.40" y1="591.50" x2="170.80" y2="591.50" stroke="#000080" stroke-width="1.0"/>
<line x1="158.40" y1="596.30" x2="170.80" y2="596.30" stroke="#000080" stroke-width="1.0"/>
<line x1="166.30" y1="591.70" x2="166.30" y2="596.50" stroke="#000080" stroke-width="1.0"/>
<line x1="160.10" y1="591.70" x2="172.50" y2="591.70" stroke="#000080" stroke-width="1.0"/>
<line x1="160.10" y1="596.50" x2="172.50" y2="596.50" stroke="#000080" stroke-width="1.0"/>
<line x1="172.50" y1="593.20" x2="172.50" y2="598.00" stroke="#000080" stroke-width="1.0"/>
<line x1="166.30" y1="593.20" x2="178.70" y2="593.20" stroke="#000080" stroke-width="1.0"/>
<line x1="166.30" y1="598.00" x2="178.70" y2="598.00" stroke="#000080" stroke-width="1.0"/>
<line x1="185.00" y1="612.00" x2="185.00" y2="616.80" stroke="#000080" stroke-width="1.0"/>
<line x1="178.80" y1="612.00" x2="191.20" y2="612.00" stroke="#000080" stroke-width="1.0"/>
<line x1="178.80" y1="616.80" x2="191.20" y2="616.80" stroke="#000080" stroke-width="1.0"/>
<line x1="189.20" y1="615.60" x2="189.20" y2="620.40" stroke="#000080" stroke-width="1.0"/>
<line x1="183.00" y1="615.60" x2="195.40" y2="615.60" stroke="#000080" stroke-width="1.0"/>
<line x1="183.00" y1="620.40" x2="195.40" y2="620.40" stroke="#000080" stroke-width="1.0"/>
<line x1="201.70" y1="635.50" x2="201.70" y2="640.30" stroke="#000080" stroke-width="1.0"/>
<line x1="195.50" y1="635.50" x2="207.90" y2="635.50" stroke="#000080" stroke-width="1.0"/>
<line x1="195.50" y1="640.30" x2="207.90" y2="640.30" stroke="#000080" stroke-width="1.0"/>
<line x1="210.60" y1="645.40" x2="210.60" y2="650.20" stroke="#000080" stroke-width="1.0"/>
<line x1="204.40" y1="645.40" x2="216.80" y2="645.40" stroke="#000080" stroke-width="1.0"/>
<line x1="204.40" y1="650.20" x2="216.80" y2="650.20" stroke="#000080" stroke-width="1.0"/>
<line x1="222.60" y1="674.60" x2="222.60" y2="679.40" stroke="#000080" stroke-width="1.0"/>
<line x1="216.40" y1="674.60" x2="228.80" y2="674.60" stroke="#000080" stroke-width="1.0"/>
<line x1="216.40" y1="679.40" x2="228.80" y2="679.40" stroke="#000080" stroke-width="1.0"/>
<line x1="234.50" y1="698.60" x2="234.50" y2="703.40" stroke="#000080" stroke-width="1.0"/>
<line x1="228.30" y1="698.60" x2="240.70" y2="698.60" stroke="#000080" stroke-width="1.0"/>
<line x1="228.30" y1="703.40" x2="240.70" y2="703.40" stroke="#000080" stroke-width="1.0"/>
<line x1="240.10" y1="720.50" x2="240.10" y2="725.30" stroke="#000080" stroke-width="1.0"/>
<line x1="233.90" y1="720.50" x2="246.30" y2="720.50" stroke="#000080" stroke-width="1.0"/>
<line x1="233.90" y1="725.30" x2="246.30" y2="725.30" stroke="#000080" stroke-width="1.0"/>
<line x1="246.90" y1="738.30" x2="246.90" y2="743.10" stroke="#000080" stroke-width="1.0"/>
<line x1="240.70" y1="738.30" x2="253.10" y2="738.30" stroke="#000080" stroke-width="1.0"/>
<line x1="240.70" y1="743.10" x2="253.10" y2="743.10" stroke="#000080" stroke-width="1.0"/>
<line x1="254.20" y1="753.90" x2="254.20" y2="758.70" stroke="#000080" stroke-width="1.0"/>
<line x1="248.00" y1="753.90" x2="260.40" y2="753.90" stroke="#000080" stroke-width="1.0"/>
<line x1="248.00" y1="758.70" x2="260.40" y2="758.70" stroke="#000080" stroke-width="1.0"/>
<line x1="256.90" y1="763.80" x2="256.90" y2="768.60" stroke="#000080" stroke-width="1.0"/>
<line x1="250.70" y1="763.80" x2="263.10" y2="763.80" stroke="#000080" stroke-width="1.0"/>
<line x1="250.70" y1="768.60" x2="263.10" y2="768.60" stroke="#000080" stroke-width="1.0"/>
<line x1="265.30" y1="785.60" x2="265.30" y2="790.40" stroke="#000080" stroke-width="1.0"/>
<line x1="259.10" y1="785.60" x2="271.50" y2="785.60" stroke="#000080" stroke-width="1.0"/>
<line x1="259.10" y1="790.40" x2="271.50" y2="790.40" stroke="#000080" stroke-width="1.0"/>
<line x1="270.00" y1="805.40" x2="270.00" y2="810.20" stroke="#000080" stroke-width="1.0"/>
<line x1="263.80" y1="805.40" x2="276.20" y2="805.40" stroke="#000080" stroke-width="1.0"/>
<line x1="263.80" y1="810.20" x2="276.20" y2="810.20" stroke="#000080" stroke-width="1.0"/>
<line x1="275.80" y1="835.30" x2="275.80" y2="840.10" stroke="#000080" stroke-width="1.0"/>
<line x1="269.60" y1="835.30" x2="282.00" y2="835.30" stroke="#000080" stroke-width="1.0"/>
<line x1="269.60" y1="840.10" x2="282.00" y2="840.10" stroke="#000080" stroke-width="1.0"/>
<line x1="288.40" y1="780.20" x2="288.40" y2="785.00" stroke="#000080" stroke-width="1.0"/>
<line x1="282.20" y1="780.20" x2="294.60" y2="780.20" stroke="#000080" stroke-width="1.0"/>
<line x1="282.20" y1="785.00" x2="294.60" y2="785.00" stroke="#000080" stroke-width="1.0"/>
<line x1="294.60" y1="784.10" x2="294.60" y2="788.90" stroke="#000080" stroke-width="1.0"/>
<line x1="288.40" y1="784.10" x2="300.80" y2="784.10" stroke="#000080" stroke-width="1.0"/>
<line x1="288.40" y1="788.90" x2="300.80" y2="788.90" stroke="#000080" stroke-width="1.0"/>
<line x1="303.70" y1="786.10" x2="303.70" y2="790.90" stroke="#000080" stroke-width="1.0"/>
<line x1="297.50" y1="786.10" x2="309.90" y2="786.10" stroke="#000080" stroke-width="1.0"/>
<line x1="297.50" y1="790.90" x2="309.90" y2="790.90" stroke="#000080" stroke-width="1.0"/>
<line x1="306.30" y1="777.10" x2="306.30" y2="781.90" stroke="#000080" stroke-width="1.0"/>
<line x1="300.10" y1="777.10" x2="312.50" y2="777.10" stroke="#000080" stroke-width="1.0"/>
<line x1="300.10" y1="781.90" x2="312.50" y2="781.90" stroke="#000080" stroke-width="1.0"/>
<line x1="311.30" y1="746.50" x2="311.30" y2="751.30" stroke="#000080" stroke-width="1.0"/>
<line x1="305.10" y1="746.50" x2="317.50" y2="746.50" stroke="#000080" stroke-width="1.0"/>
<line x1="305.10" y1="751.30" x2="317.50" y2="751.30" stroke="#000080" stroke-width="1.0"/>
<line x1="316.00" y1="726.10" x2="316.00" y2="730.90" stroke="#000080" stroke-width="1.0"/>
<line x1="309.80" y1="726.10" x2="322.20" y2="726.10" stroke="#000080" stroke-width="1.0"/>
<line x1="309.80" y1="730.90" x2="322.20" y2="730.90" stroke="#000080" stroke-width="1.0"/>
<line x1="330.20" y1="702.70" x2="330.20" y2="707.50" stroke="#000080" stroke-width="1.0"/>
<line x1="324.00" y1="702.70" x2="336.40" y2="702.70" stroke="#000080" stroke-width="1.0"/>
<line x1="324.00" y1="707.50" x2="336.40" y2="707.50" stroke="#000080" stroke-width="1.0"/>
<line x1="344.30" y1="659.10" x2="344.30" y2="663.90" stroke="#000080" stroke-width="1.0"/>
<line x1="338.10" y1="659.10" x2="350.50" y2="659.10" stroke="#000080" stroke-width="1.0"/>
<line x1="338.10" y1="663.90" x2="350.50" y2="663.90" stroke="#000080" stroke-width="1.0"/>
<line x1="363.80" y1="635.10" x2="363.80" y2="639.90" stroke="#000080" stroke-width="1.0"/>
<line x1="357.60" y1="635.10" x2="370.00" y2="635.10" stroke="#000080" stroke-width="1.0"/>
<line x1="357.60" y1="639.90" x2="370.00" y2="639.90" stroke="#000080" stroke-width="1.0"/>
<line x1="392.20" y1="631.20" x2="392.20" y2="636.00" stroke="#000080" stroke-width="1.0"/>
<line x1="386.00" y1="631.20" x2="398.40" y2="631.20" stroke="#000080" stroke-width="1.0"/>
<line x1="386.00" y1="636.00" x2="398.40" y2="636.00" stroke="#000080" stroke-width="1.0"/>
<line x1="400.50" y1="619.60" x2="400.50" y2="624.40" stroke="#000080" stroke-width="1.0"/>
<line x1="394.30" y1="619.60" x2="406.70" y2="619.60" stroke="#000080" stroke-width="1.0"/>
<line x1="394.30" y1="624.40" x2="406.70" y2="624.40" stroke="#000080" stroke-width="1.0"/>
<line x1="426.40" y1="603.90" x2="426.40" y2="608.70" stroke="#000080" stroke-width="1.0"/>
<line x1="420.20" y1="603.90" x2="432.60" y2="603.90" stroke="#000080" stroke-width="1.0"/>
<line x1="420.20" y1="608.70" x2="432.60" y2="608.70" stroke="#000080" stroke-width="1.0"/>
<line x1="437.90" y1="587.80" x2="437.90" y2="592.60" stroke="#000080" stroke-width="1.0"/>
<line x1="431.70" y1="587.80" x2="444.10" y2="587.80" stroke="#000080" stroke-width="1.0"/>
<line x1="431.70" y1="592.60" x2="444.10" y2="592.60" stroke="#000080" stroke-width="1.0"/>
<line x1="451.90" y1="568.10" x2="451.90" y2="572.90" stroke="#000080" stroke-width="1.0"/>
<line x1="445.70" y1="568.10" x2="458.10" y2="568.10" stroke="#000080" stroke-width="1.0"/>
<line x1="445.70" y1="572.90" x2="458.10" y2="572.90" stroke="#000080" stroke-width="1.0"/>
<line x1="466.30" y1="552.30" x2="466.30" y2="557.10" stroke="#000080" stroke-width="1.0"/>
<line x1="460.10" y1="552.30" x2="472.50" y2="552.30" stroke="#000080" stroke-width="1.0"/>
<line x1="460.10" y1="557.10" x2="472.50" y2="557.10" stroke="#000080" stroke-width="1.0"/>
<line x1="480.50" y1="552.30" x2="480.50" y2="557.10" stroke="#000080" stroke-width="1.0"/>
<line x1="474.30" y1="552.30" x2="486.70" y2="552.30" stroke="#000080" stroke-width="1.0"/>
<line x1="474.30" y1="557.10" x2="486.70" y2="557.10" stroke="#000080" stroke-width="1.0"/>
<line x1="494.60" y1="552.30" x2="494.60" y2="557.10" stroke="#000080" stroke-width="1.0"/>
<line x1="488.40" y1="552.30" x2="500.80" y2="552.30" stroke="#000080" stroke-width="1.0"/>
<line x1="488.40" y1="557.10" x2="500.80" y2="557.10" stroke="#000080" stroke-width="1.0"/>
<line x1="508.70" y1="552.30" x2="508.70" y2="557.10" stroke="#000080" stroke-width="1.0"/>
<line x1="502.50" y1="552.30" x2="514.90" y2="552.30" stroke="#000080" stroke-width="1.0"/>
<line x1="502.50" y1="557.10" x2="514.90" y2="557.10" stroke="#000080" stroke-width="1.0"/>
<line x1="516.40" y1="567.90" x2="516.40" y2="572.70" stroke="#000080" stroke-width="1.0"/>
<line x1="510.20" y1="567.90" x2="522.60" y2="567.90" stroke="#000080" stroke-width="1.0"/>
<line x1="510.20" y1="572.70" x2="522.60" y2="572.70" stroke="#000080" stroke-width="1.0"/>
<line x1="523.00" y1="588.00" x2="523.00" y2="592.80" stroke="#000080" stroke-width="1.0"/>
<line x1="516.80" y1="588.00" x2="529.20" y2="588.00" stroke="#000080" stroke-width="1.0"/>
<line x1="516.80" y1="592.80" x2="529.20" y2="592.80" stroke="#000080" stroke-width="1.0"/>
<line x1="531.30" y1="588.00" x2="531.30" y2="592.80" stroke="#000080" stroke-width="1.0"/>
<line x1="525.10" y1="588.00" x2="537.50" y2="588.00" stroke="#000080" stroke-width="1.0"/>
<line x1="525.10" y1="592.80" x2="537.50" y2="592.80" stroke="#000080" stroke-width="1.0"/>
<line x1="538.00" y1="595.80" x2="538.00" y2="600.60" stroke="#000080" stroke-width="1.0"/>
<line x1="531.80" y1="595.80" x2="544.20" y2="595.80" stroke="#000080" stroke-width="1.0"/>
<line x1="531.80" y1="600.60" x2="544.20" y2="600.60" stroke="#000080" stroke-width="1.0"/>
<line x1="545.10" y1="650.90" x2="545.10" y2="655.70" stroke="#000080" stroke-width="1.0"/>
<line x1="538.90" y1="650.90" x2="551.30" y2="650.90" stroke="#000080" stroke-width="1.0"/>
<line x1="538.90" y1="655.70" x2="551.30" y2="655.70" stroke="#000080" stroke-width="1.0"/>
<line x1="552.30" y1="666.80" x2="552.30" y2="671.60" stroke="#000080" stroke-width="1.0"/>
<line x1="546.10" y1="666.80" x2="558.50" y2="666.80" stroke="#000080" stroke-width="1.0"/>
<line x1="546.10" y1="671.60" x2="558.50" y2="671.60" stroke="#000080" stroke-width="1.0"/>
<circle cx="137.00" cy="550.30" r="5.2" fill="#000080"/>
<circle cx="143.70" cy="574.00" r="5.2" fill="#000080"/>
<circle cx="145.70" cy="577.20" r="5.2" fill="#000080"/>
<circle cx="154.00" cy="587.50" r="5.2" fill="#000080"/>
<circle cx="164.60" cy="593.90" r="5.2" fill="#000080"/>
<circle cx="166.30" cy="594.10" r="5.2" fill="#000080"/>
<circle cx="172.50" cy="595.60" r="5.2" fill="#000080"/>
<circle cx="185.00" cy="614.40" r="5.2" fill="#000080"/>
<circle cx="189.20" cy="618.00" r="5.2" fill="#000080"/>
<circle cx="201.70" cy="637.90" r="5.2" fill="#000080"/>
<circle cx="210.60" cy="647.80" r="5.2" fill="#000080"/>
<circle cx="222.60" cy="677.00" r="5.2" fill="#000080"/>
<circle cx="234.50" cy="701.00" r="5.2" fill="#000080"/>
<circle cx="240.10" cy="722.90" r="5.2" fill="#000080"/>
<circle cx="246.90" cy="740.70" r="5.2" fill="#000080"/>
<circle cx="254.20" cy="756.30" r="5.2" fill="#000080"/>
<circle cx="256.90" cy="766.20" r="5.2" fill="#000080"/>
<circle cx="265.30" cy="788.00" r="5.2" fill="#000080"/>
<circle cx="270.00" cy="807.80" r="5.2" fill="#000080"/>
<circle cx="275.80" cy="837.70" r="5.2" fill="#000080"/>
<circle cx="288.40" cy="782.60" r="5.2" fill="#000080"/>
<circle cx="294.60" cy="786.50" r="5.2" fill="#000080"/>
<circle cx="303.70" cy="788.50" r="5.2" fill="#000080"/>
<circle cx="306.30" cy="779.50" r="5.2" fill="#000080"/>
<circle cx="311.30" cy="748.90" r="5.2" fill="#000080"/>
<circle cx="316.00" cy="728.50" r="5.2" fill="#000080"/>
<circle cx="330.20" cy="705.10" r="5.2" fill="#000080"/>
<circle cx="344.30" cy="661.50" r="5.2" fill="#000080"/>
<circle cx="363.80" cy="637.50" r="5.2" fill="#000080"/>
<circle cx="392.20" cy="633.60" r="5.2" fill="#000080"/>
<circle cx="400.50" cy="622.00" r="5.2" fill="#000080"/>
<circle cx="426.40" cy="606.30" r="5.2" fill="#000080"/>
<circle cx="437.90" cy="590.20" r="5.2" fill="#000080"/>
<circle cx="451.90" cy="570.50" r="5.2" fill="#000080"/>
<circle cx="466.30" cy="554.70" r="5.2" fill="#000080"/>
<circle cx="480.50" cy="554.70" r="5.2" fill="#000080"/>
<circle cx="494.60" cy="554.70" r="5.2" fill="#000080"/>
<circle cx="508.70" cy="554.70" r="5.2" fill="#000080"/>
<circle cx="516.40" cy="570.30" r="5.2" fill="#000080"/>
<circle cx="523.00" cy="590.40" r="5.2" fill="#000080"/>
<circle cx="531.30" cy="590.40" r="5.2" fill="#000080"/>
<circle cx="538.00" cy="598.20" r="5.2" fill="#000080"/>
<circle cx="545.10" cy="653.30" r="5.2" fill="#000080"/>
<circle cx="552.30" cy="669.20" r="5.2" fill="#000080"/>
<polyline points="137.00,522.70 141.30,522.70 148.40,524.60 154.40,536.90 171.50,582.90 183.00,599.20 205.80,656.00 220.00,667.40 240.10,729.70 254.70,737.50 282.90,833.00 309.00,833.00 337.80,833.00 365.90,833.00 480.80,833.00 509.30,833.00" fill="none" stroke="#5c1018" stroke-width="1.5" stroke-linejoin="round"/>
<line x1="137.00" y1="508.00" x2="137.00" y2="537.40" stroke="#6a1a24" stroke-width="1.5"/>
<line x1="131.00" y1="508.00" x2="143.00" y2="508.00" stroke="#6a1a24" stroke-width="1.5"/>
<line x1="131.00" y1="537.40" x2="143.00" y2="537.40" stroke="#6a1a24" stroke-width="1.5"/>
<line x1="141.30" y1="508.00" x2="141.30" y2="537.40" stroke="#6a1a24" stroke-width="1.5"/>
<line x1="135.30" y1="508.00" x2="147.30" y2="508.00" stroke="#6a1a24" stroke-width="1.5"/>
<line x1="135.30" y1="537.40" x2="147.30" y2="537.40" stroke="#6a1a24" stroke-width="1.5"/>
<line x1="148.40" y1="511.40" x2="148.40" y2="537.80" stroke="#6a1a24" stroke-width="1.5"/>
<line x1="142.40" y1="511.40" x2="154.40" y2="511.40" stroke="#6a1a24" stroke-width="1.5"/>
<line x1="142.40" y1="537.80" x2="154.40" y2="537.80" stroke="#6a1a24" stroke-width="1.5"/>
<line x1="154.40" y1="522.20" x2="154.40" y2="551.60" stroke="#6a1a24" stroke-width="1.5"/>
<line x1="148.40" y1="522.20" x2="160.40" y2="522.20" stroke="#6a1a24" stroke-width="1.5"/>
<line x1="148.40" y1="551.60" x2="160.40" y2="551.60" stroke="#6a1a24" stroke-width="1.5"/>
<line x1="171.50" y1="569.60" x2="171.50" y2="596.20" stroke="#6a1a24" stroke-width="1.5"/>
<line x1="165.50" y1="569.60" x2="177.50" y2="569.60" stroke="#6a1a24" stroke-width="1.5"/>
<line x1="165.50" y1="596.20" x2="177.50" y2="596.20" stroke="#6a1a24" stroke-width="1.5"/>
<line x1="183.00" y1="587.70" x2="183.00" y2="610.70" stroke="#6a1a24" stroke-width="1.5"/>
<line x1="177.00" y1="587.70" x2="189.00" y2="587.70" stroke="#6a1a24" stroke-width="1.5"/>
<line x1="177.00" y1="610.70" x2="189.00" y2="610.70" stroke="#6a1a24" stroke-width="1.5"/>
<line x1="205.80" y1="642.50" x2="205.80" y2="669.50" stroke="#6a1a24" stroke-width="1.5"/>
<line x1="199.80" y1="642.50" x2="211.80" y2="642.50" stroke="#6a1a24" stroke-width="1.5"/>
<line x1="199.80" y1="669.50" x2="211.80" y2="669.50" stroke="#6a1a24" stroke-width="1.5"/>
<line x1="220.00" y1="651.00" x2="220.00" y2="683.80" stroke="#6a1a24" stroke-width="1.5"/>
<line x1="214.00" y1="651.00" x2="226.00" y2="651.00" stroke="#6a1a24" stroke-width="1.5"/>
<line x1="214.00" y1="683.80" x2="226.00" y2="683.80" stroke="#6a1a24" stroke-width="1.5"/>
<line x1="240.10" y1="716.40" x2="240.10" y2="743.00" stroke="#6a1a24" stroke-width="1.5"/>
<line x1="234.10" y1="716.40" x2="246.10" y2="716.40" stroke="#6a1a24" stroke-width="1.5"/>
<line x1="234.10" y1="743.00" x2="246.10" y2="743.00" stroke="#6a1a24" stroke-width="1.5"/>
<line x1="254.70" y1="722.80" x2="254.70" y2="752.20" stroke="#6a1a24" stroke-width="1.5"/>
<line x1="248.70" y1="722.80" x2="260.70" y2="722.80" stroke="#6a1a24" stroke-width="1.5"/>
<line x1="248.70" y1="752.20" x2="260.70" y2="752.20" stroke="#6a1a24" stroke-width="1.5"/>
<line x1="282.90" y1="818.50" x2="282.90" y2="847.50" stroke="#6a1a24" stroke-width="1.5"/>
<line x1="276.90" y1="818.50" x2="288.90" y2="818.50" stroke="#6a1a24" stroke-width="1.5"/>
<line x1="276.90" y1="847.50" x2="288.90" y2="847.50" stroke="#6a1a24" stroke-width="1.5"/>
<line x1="309.00" y1="818.50" x2="309.00" y2="847.50" stroke="#6a1a24" stroke-width="1.5"/>
<line x1="303.00" y1="818.50" x2="315.00" y2="818.50" stroke="#6a1a24" stroke-width="1.5"/>
<line x1="303.00" y1="847.50" x2="315.00" y2="847.50" stroke="#6a1a24" stroke-width="1.5"/>
<line x1="337.80" y1="818.50" x2="337.80" y2="847.50" stroke="#6a1a24" stroke-width="1.5"/>
<line x1="331.80" y1="818.50" x2="343.80" y2="818.50" stroke="#6a1a24" stroke-width="1.5"/>
<line x1="331.80" y1="847.50" x2="343.80" y2="847.50" stroke="#6a1a24" stroke-width="1.5"/>
<line x1="365.90" y1="818.50" x2="365.90" y2="847.50" stroke="#6a1a24" stroke-width="1.5"/>
<line x1="359.90" y1="818.50" x2="371.90" y2="818.50" stroke="#6a1a24" stroke-width="1.5"/>
<line x1="359.90" y1="847.50" x2="371.90" y2="847.50" stroke="#6a1a24" stroke-width="1.5"/>
<line x1="480.80" y1="818.50" x2="480.80" y2="847.50" stroke="#6a1a24" stroke-width="1.5"/>
<line x1="474.80" y1="818.50" x2="486.80" y2="818.50" stroke="#6a1a24" stroke-width="1.5"/>
<line x1="474.80" y1="847.50" x2="486.80" y2="847.50" stroke="#6a1a24" stroke-width="1.5"/>
<line x1="509.30" y1="818.50" x2="509.30" y2="847.50" stroke="#6a1a24" stroke-width="1.5"/>
<line x1="503.30" y1="818.50" x2="515.30" y2="818.50" stroke="#6a1a24" stroke-width="1.5"/>
<line x1="503.30" y1="847.50" x2="515.30" y2="847.50" stroke="#6a1a24" stroke-width="1.5"/>
<rect x="132.40" y="518.10" width="9.2" height="9.2" fill="#4a0008"/>
<rect x="136.70" y="518.10" width="9.2" height="9.2" fill="#4a0008"/>
<rect x="143.80" y="520.00" width="9.2" height="9.2" fill="#4a0008"/>
<rect x="149.80" y="532.30" width="9.2" height="9.2" fill="#4a0008"/>
<rect x="166.90" y="578.30" width="9.2" height="9.2" fill="#4a0008"/>
<rect x="178.40" y="594.60" width="9.2" height="9.2" fill="#4a0008"/>
<rect x="201.20" y="651.40" width="9.2" height="9.2" fill="#4a0008"/>
<rect x="215.40" y="662.80" width="9.2" height="9.2" fill="#4a0008"/>
<rect x="235.50" y="725.10" width="9.2" height="9.2" fill="#4a0008"/>
<rect x="250.10" y="732.90" width="9.2" height="9.2" fill="#4a0008"/>
<rect x="278.30" y="828.40" width="9.2" height="9.2" fill="#4a0008"/>
<rect x="304.40" y="828.40" width="9.2" height="9.2" fill="#4a0008"/>
<rect x="333.20" y="828.40" width="9.2" height="9.2" fill="#4a0008"/>
<rect x="361.30" y="828.40" width="9.2" height="9.2" fill="#4a0008"/>
<rect x="476.20" y="828.40" width="9.2" height="9.2" fill="#4a0008"/>
<rect x="504.70" y="828.40" width="9.2" height="9.2" fill="#4a0008"/>
<line x1="169.00" y1="497.70" x2="205.10" y2="497.70" stroke="#1a1aa6" stroke-width="1.5"/>
<circle cx="187.20" cy="497.70" r="5.1" fill="#000080"/>
<text x="213.60" y="502.90" font-size="15" text-anchor="start" >DO</text>
<line x1="169.00" y1="523.60" x2="205.10" y2="523.60" stroke="#5c1018" stroke-width="1.5"/>
<rect x="182.40" y="518.90" width="9.2" height="9.2" fill="#4a0008"/>
<text x="213.60" y="528.30" font-size="15" text-anchor="start" >Oil</text>
<line x1="302.90" y1="658.60" x2="302.90" y2="747.80" stroke="#2a2a2a" stroke-width="1.1"/>
<polyline points="295.60,720.80 302.90,747.80 310.20,720.80" fill="none" stroke="#2a2a2a" stroke-width="1.1" stroke-linejoin="round"/>
<line x1="324.60" y1="603.30" x2="324.60" y2="694.70" stroke="#2a2a2a" stroke-width="1.1"/>
<polyline points="317.30,667.70 324.60,694.70 331.90,667.70" fill="none" stroke="#2a2a2a" stroke-width="1.1" stroke-linejoin="round"/>
<line x1="396.40" y1="544.20" x2="396.40" y2="613.10" stroke="#2a2a2a" stroke-width="1.1"/>
<polyline points="389.10,586.10 396.40,613.10 403.70,586.10" fill="none" stroke="#2a2a2a" stroke-width="1.1" stroke-linejoin="round"/>
<line x1="513.40" y1="498.50" x2="513.40" y2="546.80" stroke="#2a2a2a" stroke-width="1.1"/>
<polyline points="506.10,519.80 513.40,546.80 520.70,519.80" fill="none" stroke="#2a2a2a" stroke-width="1.1" stroke-linejoin="round"/>
<line x1="540.40" y1="519.50" x2="540.40" y2="587.50" stroke="#2a2a2a" stroke-width="1.1"/>
<polyline points="533.10,560.50 540.40,587.50 547.70,560.50" fill="none" stroke="#2a2a2a" stroke-width="1.1" stroke-linejoin="round"/>
<text x="244.9" y="648.1" font-size="16">MgSO<tspan font-size="12" dy="0.5">4</tspan></text>
<text x="300.0" y="585.5" font-size="16">KH<tspan font-size="12" dy="2">2</tspan><tspan dy="-2">PO</tspan><tspan font-size="12" dy="1.4">4</tspan></text>
<text x="354.6" y="530.9" font-size="16">NaNO<tspan font-size="12" dy="2.3">3</tspan></text>
<text x="463.6" y="489.3" font-size="15.7">Yeast extract</text>
<text x="533.7" y="522.0" font-size="15.7">Yeast extract</text>
</svg>
</body></html>
